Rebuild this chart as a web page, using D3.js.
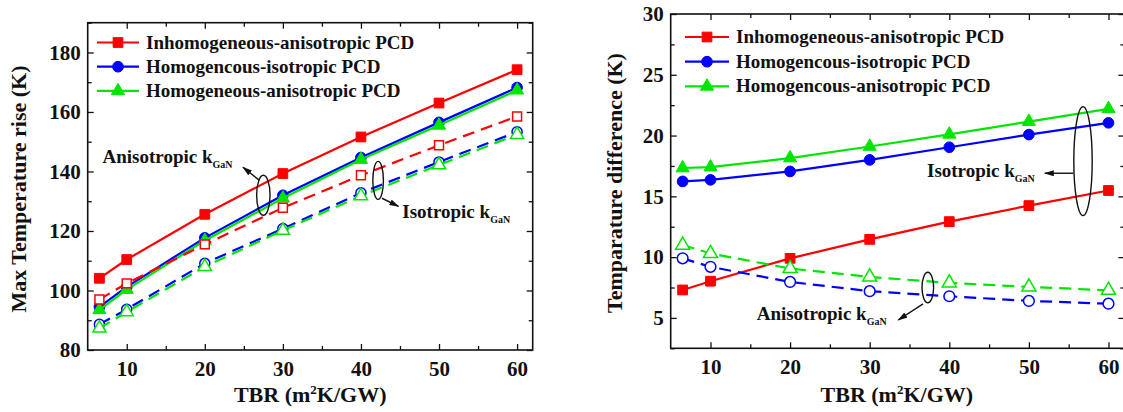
<!DOCTYPE html>
<html>
<head>
<meta charset="utf-8">
<script src="https://cdn.jsdelivr.net/npm/d3@7"></script>
<style>
body { margin: 0; background: #fff; }
svg text { font-family: "Liberation Serif", "Times New Roman", Times, serif; font-weight: bold; fill: #111; }
</style>
</head>
<body>
<svg id="chart" width="1123" height="412" font-family="Liberation Serif, serif"></svg>
<script>
// TBR values (m2K/GW)
var tbr = [6.5, 10, 20, 30, 40, 50, 60];

// left panel - max temperature rise (K)
var riseRedSolid   = [104.1, 110.4, 125.6, 139.3, 151.6, 163.0, 174.2];
var riseBlueSolid  = [94.5, 101.2, 117.7, 132.0, 144.7, 156.5, 168.2];
var riseGreenSolid = [93.5, 100.3, 116.8, 131.0, 144.0, 155.5, 167.3];
var riseRedDash    = [97.0, 102.4, 115.5, 127.8, 138.7, 148.8, 158.5];
var riseBlueDash   = [88.6, 93.7, 109.1, 120.8, 132.8, 143.2, 153.3];
var riseGreenDash  = [87.3, 92.8, 108.0, 120.2, 131.8, 142.2, 152.4];

// right panel - temperature difference (K)
var diffRedSolid   = [7.3, 8.02, 9.9, 11.46, 12.92, 14.24, 15.48];
var diffBlueSolid  = [16.23, 16.36, 17.05, 18.0, 19.04, 20.08, 21.05];
var diffGreenSolid = [17.33, 17.4, 18.15, 19.1, 20.1, 21.15, 22.2];
var diffBlueDash   = [9.9, 9.2, 7.96, 7.2, 6.78, 6.4, 6.17];
var diffGreenDash  = [10.99, 10.3, 9.06, 8.37, 7.88, 7.55, 7.27];

var legendLeft  = ["Inhomogeneous-anisotropic PCD", "Homogencous-isotropic PCD", "Homogeneous-anisotropic PCD"];
var legendRight = ["Inhomogeneous-anisotropic PCD", "Homogencous-isotropic PCD", "Homogencous-anisotropic PCD"];

var xMajor = [10, 20, 30, 40, 50, 60];
var xMinor = [15, 25, 35, 45, 55];
var riseMajor = [80, 100, 120, 140, 160, 180];
var riseMinor = [90, 110, 130, 150, 170, 190];
var diffMajor = [5, 10, 15, 20, 25, 30];
var diffMinor = [2.5, 7.5, 12.5, 17.5, 22.5, 27.5];

var red = "#ff0000", blue = "#0000ff", green = "#00e600";
var serif = "'Liberation Serif', 'Times New Roman', Times, serif";

var svg = d3.select("#chart");

// arrow head
svg.append("defs").append("marker")
    .attr("id", "arrow")
    .attr("viewBox", "0 0 10 6")
    .attr("refX", 9).attr("refY", 3)
    .attr("markerWidth", 10).attr("markerHeight", 6)
    .attr("markerUnits", "userSpaceOnUse")
    .attr("orient", "auto")
    .append("path")
    .attr("d", "M0,0 L10,3 L0,6 Z")
    .attr("fill", "#111");

function drawPanel(opt) {
    var x = d3.scaleLinear().domain(opt.xDomain).range([opt.left, opt.right]);
    var y = d3.scaleLinear().domain(opt.yDomain).range([opt.bottom, opt.top]);
    var g = svg.append("g");

    // ticks on all four sides, pointing in
    function tickAxis(axisFn, scale, vals, size, labels, transform, pad) {
        var ax = axisFn(scale).tickValues(vals).tickSize(-size).tickSizeOuter(0);
        if (labels) ax.tickPadding(pad).tickFormat(d3.format("d"));
        else ax.tickFormat("");
        var a = g.append("g").attr("transform", transform).call(ax);
        a.attr("font-family", null).attr("font-size", null);
        a.select(".domain").remove();
        a.selectAll("line").attr("stroke", "#111").attr("stroke-width", 1.3);
        a.selectAll("text").style("font-size", "21px").attr("fill", "#111");
        return a;
    }
    var bt = "translate(0," + opt.bottom + ")", tp = "translate(0," + opt.top + ")";
    var lf = "translate(" + opt.left + ",0)", rt = "translate(" + opt.right + ",0)";
    tickAxis(d3.axisBottom, x, xMajor, 6, true, bt, 11);
    tickAxis(d3.axisBottom, x, xMinor, 4, false, bt);
    tickAxis(d3.axisTop, x, xMajor, 6, false, tp);
    tickAxis(d3.axisTop, x, xMinor, 4, false, tp);
    tickAxis(d3.axisLeft, y, opt.yMajor, 6, true, lf, 7);
    tickAxis(d3.axisLeft, y, opt.yMinor, 4, false, lf);
    tickAxis(d3.axisRight, y, opt.yMajor, 6, false, rt);
    tickAxis(d3.axisRight, y, opt.yMinor, 4, false, rt);

    // frame
    g.append("rect")
        .attr("x", opt.left).attr("y", opt.top)
        .attr("width", opt.right - opt.left).attr("height", opt.bottom - opt.top)
        .attr("fill", "none").attr("stroke", "#111").attr("stroke-width", 1.6);

    var line = d3.line()
        .x(function(d, i) { return x(tbr[i]); })
        .y(function(d) { return y(d); });

    opt.series.forEach(function(s) {
        g.append("path")
            .datum(s.values)
            .attr("d", line)
            .attr("fill", "none")
            .attr("stroke", s.color)
            .attr("stroke-width", 2.2)
            .attr("stroke-dasharray", s.dashed ? "12,7" : null);
        g.selectAll(null)
            .data(s.values)
            .enter()
            .append("path")
            .attr("transform", function(d, i) { return "translate(" + x(tbr[i]) + "," + y(d) + ")"; })
            .attr("d", d3.symbol().type(s.symbol).size(s.size))
            .attr("fill", s.filled ? s.color : "#fff")
            .attr("stroke", s.color)
            .attr("stroke-width", s.filled ? 1 : 1.5);
    });

    // legend
    opt.legend.forEach(function(name, i) {
        var s = opt.series[i];
        var ly = opt.legendY + i * opt.legendStep;
        g.append("line")
            .attr("x1", opt.legendX).attr("x2", opt.legendX + opt.legendLen)
            .attr("y1", ly).attr("y2", ly)
            .attr("stroke", s.color).attr("stroke-width", 2.2);
        g.append("path")
            .attr("transform", "translate(" + (opt.legendX + opt.legendLen / 2) + "," + ly + ")")
            .attr("d", d3.symbol().type(s.symbol).size(s.size))
            .attr("fill", s.color).attr("stroke", s.color);
        g.append("text")
            .attr("x", opt.legendX + opt.legendLen + 7)
            .attr("y", ly + 6)
            .style("font-size", "19px")
            .text(name);
    });

    // annotations: ellipse + arrow + label
    opt.notes.forEach(function(n) {
        g.append("ellipse")
            .attr("cx", x(n.cx)).attr("cy", y(n.cy))
            .attr("rx", n.rx).attr("ry", n.ry)
            .attr("fill", "none").attr("stroke", "#111").attr("stroke-width", 1.4);
        g.append("line")
            .attr("x1", x(n.ax1)).attr("y1", y(n.ay1))
            .attr("x2", x(n.ax2)).attr("y2", y(n.ay2))
            .attr("stroke", "#111").attr("stroke-width", 1.4)
            .attr("marker-end", "url(#arrow)");
        var t = g.append("text")
            .attr("x", x(n.tx)).attr("y", y(n.ty))
            .style("font-size", "19px");
        t.append("tspan").text(n.text);
        t.append("tspan").attr("dy", 5).style("font-size", "10px").text("GaN");
    });

    // axis titles
    var xt = g.append("text")
        .attr("x", (opt.left + Math.min(opt.right, 1123)) / 2)
        .attr("y", 402)
        .attr("text-anchor", "middle")
        .style("font-size", "22px");
    xt.append("tspan").text("TBR (m");
    xt.append("tspan").attr("dy", -8).style("font-size", "13px").text("2");
    xt.append("tspan").attr("dy", 8).text("K/GW)");

    g.append("text")
        .attr("transform", "translate(" + opt.yTitleX + "," + opt.yTitleY + ") rotate(-90)")
        .attr("text-anchor", "middle")
        .style("font-size", "22px")
        .text(opt.yTitle);
}

drawPanel({
    left: 87.7, right: 532.7, top: 22.7, bottom: 350,
    xDomain: [5, 62], yDomain: [80, 190],
    yMajor: riseMajor, yMinor: riseMinor,
    series: [
        {values: riseRedSolid, color: red, symbol: d3.symbolSquare, size: 95, filled: true},
        {values: riseBlueSolid, color: blue, symbol: d3.symbolCircle, size: 90, filled: true},
        {values: riseGreenSolid, color: green, symbol: d3.symbolTriangle, size: 75, filled: true},
        {values: riseRedDash, color: red, symbol: d3.symbolSquare, size: 80, filled: false, dashed: true},
        {values: riseBlueDash, color: blue, symbol: d3.symbolCircle, size: 80, filled: false, dashed: true},
        {values: riseGreenDash, color: green, symbol: d3.symbolTriangle, size: 75, filled: false, dashed: true}
    ],
    legend: legendLeft, legendX: 97, legendLen: 42, legendY: 42.5, legendStep: 24.2,
    notes: [
        {cx: 27.5, cy: 132, rx: 6.7, ry: 20, ax1: 27.0, ay1: 137.0, ax2: 24.9, ay2: 141.4,
         tx: 6.9, ty: 142.8, text: "Anisotropic k"},
        {cx: 42.2, cy: 137, rx: 5.3, ry: 19, ax1: 42.7, ay1: 131, ax2: 44.8, ay2: 128.3,
         tx: 45.3, ty: 124.3, text: "Isotropic k"}
    ],
    yTitle: "Max Temperature rise (K)", yTitleX: 26, yTitleY: 189
});

drawPanel({
    left: 670.7, right: 1124.4, top: 14, bottom: 348.3,
    xDomain: [5, 62], yDomain: [2.5, 30],
    yMajor: diffMajor, yMinor: diffMinor,
    series: [
        {values: diffRedSolid, color: red, symbol: d3.symbolSquare, size: 95, filled: true},
        {values: diffBlueSolid, color: blue, symbol: d3.symbolCircle, size: 90, filled: true},
        {values: diffGreenSolid, color: green, symbol: d3.symbolTriangle, size: 75, filled: true},
        {values: diffBlueDash, color: blue, symbol: d3.symbolCircle, size: 90, filled: false, dashed: true},
        {values: diffGreenDash, color: green, symbol: d3.symbolTriangle, size: 85, filled: false, dashed: true}
    ],
    legend: legendRight, legendX: 685, legendLen: 44, legendY: 37, legendStep: 24.7,
    notes: [
        {cx: 56.8, cy: 17.9, rx: 9.2, ry: 54.5, ax1: 55.6, ay1: 16.9, ax2: 52.0, ay2: 16.9,
         tx: 37.2, ty: 16.6, text: "Isotropic k"},
        {cx: 37.3, cy: 7.5, rx: 5.8, ry: 15.3, ax1: 36.7, ay1: 6.15, ax2: 33.6, ay2: 4.83,
         tx: 15.8, ty: 4.83, text: "Anisotropic k"}
    ],
    yTitle: "Temparature difference (K)", yTitleX: 622, yTitleY: 183
});

svg.selectAll("text").style("font-family", serif).style("font-weight", "bold");
</script>
</body>
</html>
